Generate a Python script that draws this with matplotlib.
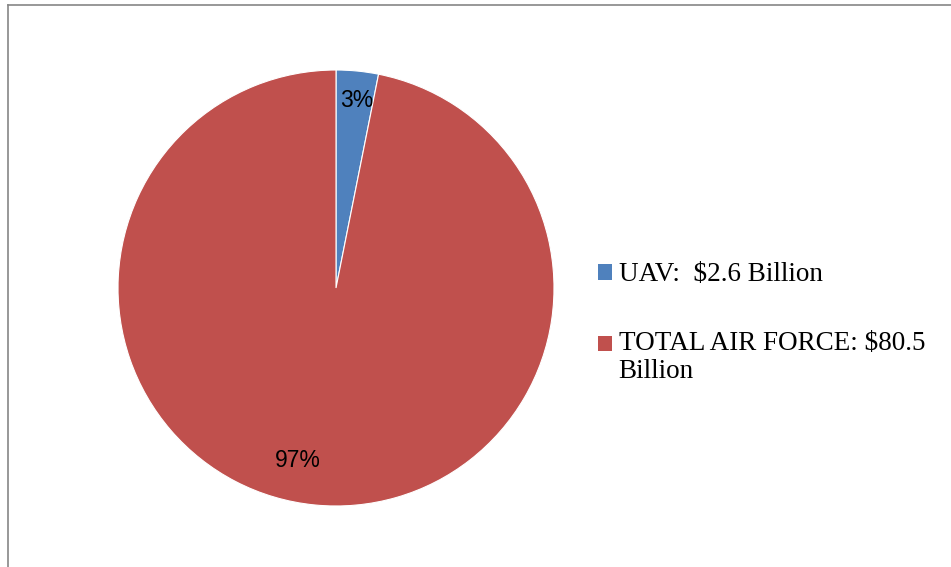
import matplotlib.pyplot as plt
from matplotlib.lines import Line2D
from matplotlib.patches import Patch, Rectangle
from matplotlib.legend_handler import HandlerPatch

labels = ["UAV:  $2.6 Billion", "TOTAL AIR FORCE: $80.5\nBillion"]
values = [2.6, 80.5]
colors = ["#4F81BD", "#C0504D"]

W, H = 951, 567
fig = plt.figure(figsize=(W / 100, H / 100), dpi=100)

# pie centre ~ (336, 288) px, radius ~ 218 px
cx, cy, r = 336, 288, 218
ax = fig.add_axes([(cx - r) / W, (H - cy - r) / H, 2 * r / W, 2 * r / H])
wedges, texts, autotexts = ax.pie(
    values, colors=colors, startangle=90, counterclock=False,
    autopct=lambda p: f"{p:.0f}%", pctdistance=0.86,
    wedgeprops={"edgecolor": "white", "linewidth": 0.8},
    textprops={"fontsize": 16.5, "family": "Liberation Sans", "color": "black"},
)
# data labels sit where Excel put them
autotexts[0].set_position((0.096, 0.862))
autotexts[1].set_position((-0.174, -0.789))
ax.set_xlim(-1, 1)
ax.set_ylim(-1, 1)
ax.set_aspect("equal")
ax.axis("off")


def top_square(legend, orig_handle, xdescent, ydescent, width, height, fontsize):
    # keep the marker level with the first text line, as Excel does
    return Rectangle((-xdescent, -ydescent + 0.5 * fontsize), width, height)


handles = [Patch(facecolor=c, edgecolor="none") for c in colors]
leg = fig.legend(handles, labels, loc="center left",
                 bbox_to_anchor=(574 / W, 1 - 323 / H), frameon=False,
                 prop={"family": "Liberation Serif", "size": 19.5},
                 handlelength=0.5, handleheight=0.5, handletextpad=0.25,
                 labelspacing=1.6,
                 handler_map={handles[1]: HandlerPatch(patch_func=top_square)})
for t in leg.get_texts():
    t.set_linespacing(1.15)

# chart-area border (top and left edges visible)
border = "#868686"
fig.add_artist(Line2D([8 / W, 1], [1 - 5 / H, 1 - 5 / H], color=border, lw=1.2,
                      transform=fig.transFigure))
fig.add_artist(Line2D([8 / W, 8 / W], [0, 1 - 5 / H], color=border, lw=1.2,
                      transform=fig.transFigure))

fig.savefig("out.png", dpi=100)
